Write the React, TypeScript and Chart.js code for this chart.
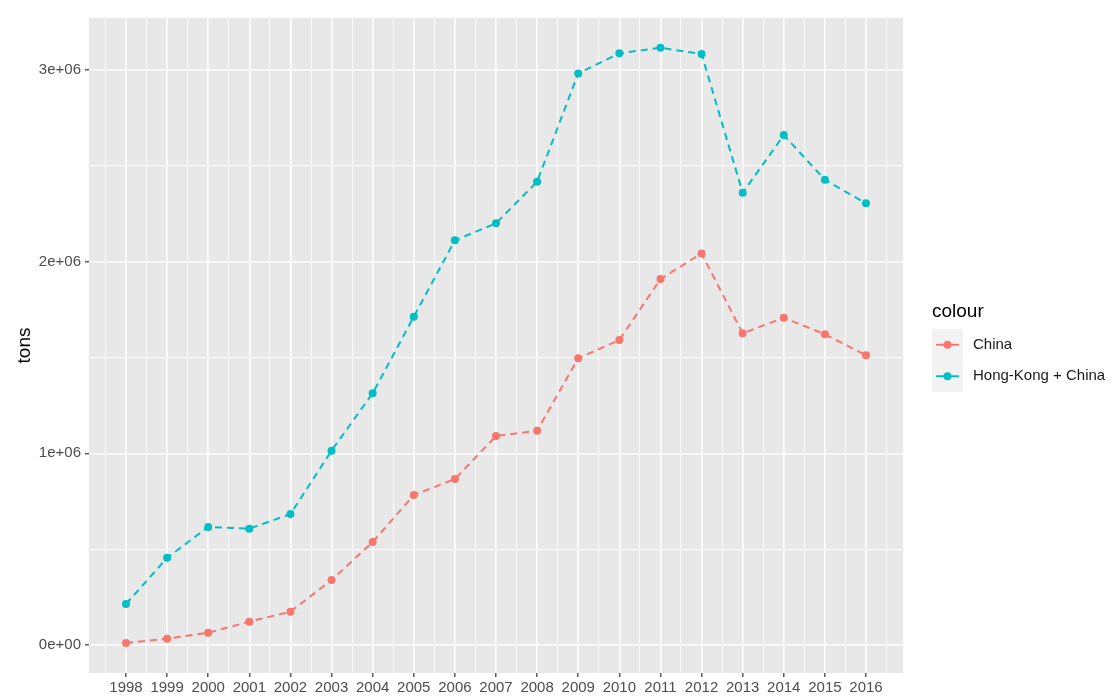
import React, { useEffect, useRef } from "react";
import { Chart, registerables } from "chart.js";

Chart.register(...registerables);

const years = [1998, 1999, 2000, 2001, 2002, 2003, 2004, 2005, 2006, 2007, 2008, 2009, 2010, 2011, 2012, 2013, 2014, 2015, 2016];
const china = [10000, 33000, 64000, 122000, 174000, 339000, 537000, 782000, 866000, 1090000, 1118000, 1496000, 1591000, 1909000, 2043000, 1626000, 1707000, 1621000, 1511000];
const hongKongChina = [214000, 455000, 616000, 607000, 683000, 1014000, 1313000, 1713000, 2111000, 2200000, 2417000, 2982000, 3087000, 3116000, 3083000, 2359000, 2660000, 2427000, 2304000];
const yTickValues = [0, 1000000, 2000000, 3000000];
const yTickLabels = ["0e+00", "1e+06", "2e+06", "3e+06"];
const seriesNames = ["China", "Hong-Kong + China"];
const seriesColors = ["#F8766D", "#00BFC4"];
const legendTitle = "colour";
const yTitle = "tons";

const FONT = "'Liberation Sans', Arial, Helvetica, sans-serif";

export default function App() {
  const ref = useRef<HTMLCanvasElement | null>(null);

  useEffect(() => {
    const canvas = ref.current;
    if (!canvas) return;

    const panelBg = {
      id: "panelBg",
      beforeDraw(chart: any) {
        const { ctx, chartArea } = chart;
        ctx.save();
        ctx.fillStyle = "#E8E8E8";
        ctx.fillRect(chartArea.left, chartArea.top, chartArea.right - chartArea.left, chartArea.bottom - chartArea.top);
        ctx.restore();
      },
    };

    const legendPlugin = {
      id: "ggLegend",
      afterDraw(chart: any) {
        const ctx = chart.ctx;
        ctx.save();
        ctx.fillStyle = "#000000";
        ctx.font = `19px ${FONT}`;
        ctx.textBaseline = "middle";
        ctx.textAlign = "left";
        ctx.fillText(legendTitle, 932, 312);
        const keyX = 932;
        const keyW = 31;
        const keyH = 31.5;
        const keyTop = 329;
        seriesNames.forEach((name, i) => {
          const y0 = keyTop + i * keyH;
          ctx.fillStyle = "#F2F2F2";
          ctx.fillRect(keyX, y0, keyW, keyH);
          const cy = y0 + keyH / 2;
          ctx.strokeStyle = seriesColors[i];
          ctx.lineWidth = 2;
          ctx.beginPath();
          ctx.moveTo(keyX + 4, cy);
          ctx.lineTo(keyX + keyW - 4, cy);
          ctx.stroke();
          ctx.fillStyle = seriesColors[i];
          ctx.beginPath();
          ctx.arc(keyX + keyW / 2, cy, 4, 0, Math.PI * 2);
          ctx.fill();
          ctx.fillStyle = "#1A1A1A";
          ctx.font = `15px ${FONT}`;
          ctx.fillText(name, 973, cy);
        });
        ctx.restore();
      },
    };

    const isMajorY = (v: number) => yTickValues.includes(v);
    const isMajorX = (v: number) => years.includes(v);

    const chart = new Chart(canvas, {
      type: "line",
      data: {
        datasets: [china, hongKongChina].map((vals, i) => ({
          label: seriesNames[i],
          data: years.map((yr, j) => ({ x: yr, y: vals[j] })),
          borderColor: seriesColors[i],
          backgroundColor: seriesColors[i],
          borderWidth: 2,
          borderDash: [7, 5],
          pointRadius: 4,
          pointBorderWidth: 0,
          pointBackgroundColor: seriesColors[i],
          fill: false,
          tension: 0,
        })),
      },
      options: {
        animation: false,
        responsive: false,
        maintainAspectRatio: false,
        layout: { padding: { left: 0, top: 18, right: 211, bottom: 0 } },
        plugins: {
          legend: { display: false },
          tooltip: { enabled: false },
        },
        scales: {
          x: {
            type: "linear",
            min: 1997.1,
            max: 2016.9,
            afterBuildTicks: (scale: any) => {
              const t: any[] = [];
              t.push({ value: years[0] - 0.5 });
              years.forEach((y) => {
                t.push({ value: y });
                t.push({ value: y + 0.5 });
              });
              scale.ticks = t;
            },
            afterFit: (scale: any) => {
              scale.height = 24;
            },
            border: { display: false },
            grid: {
              color: "#FFFFFF",
              lineWidth: (ctx: any) => (ctx.tick && isMajorX(ctx.tick.value) ? 1.6 : 0.8),
              tickLength: 4,
              tickColor: (ctx: any) => (ctx.tick && isMajorX(ctx.tick.value) ? "#333333" : "rgba(0,0,0,0)"),
              tickWidth: 1.2,
            },
            ticks: {
              autoSkip: false,
              maxRotation: 0,
              padding: 2,
              color: "#4D4D4D",
              font: { family: FONT, size: 15 },
              callback: (v: any) => (isMajorX(Number(v)) ? String(v) : ""),
            },
          },
          y: {
            type: "linear",
            min: -146000,
            max: 3271000,
            afterBuildTicks: (scale: any) => {
              const t: any[] = [];
              yTickValues.forEach((v, i) => {
                t.push({ value: v });
                if (i < yTickValues.length - 1) t.push({ value: (v + yTickValues[i + 1]) / 2 });
              });
              scale.ticks = t;
            },
            afterFit: (scale: any) => {
              scale.width = 89;
            },
            border: { display: false },
            grid: {
              color: "#FFFFFF",
              lineWidth: (ctx: any) => (ctx.tick && isMajorY(ctx.tick.value) ? 1.6 : 0.8),
              tickLength: 4,
              tickColor: (ctx: any) => (ctx.tick && isMajorY(ctx.tick.value) ? "#333333" : "rgba(0,0,0,0)"),
              tickWidth: 1.2,
            },
            ticks: {
              autoSkip: false,
              padding: 4,
              color: "#4D4D4D",
              font: { family: FONT, size: 15 },
              callback: (v: any) => {
                const idx = yTickValues.indexOf(Number(v));
                return idx >= 0 ? yTickLabels[idx] : "";
              },
            },
            title: {
              display: true,
              text: yTitle,
              color: "#000000",
              font: { family: FONT, size: 19 },
              padding: { top: 13, bottom: 0 },
            },
          },
        },
      },
      plugins: [panelBg, legendPlugin],
    } as any);

    return () => chart.destroy();
  }, []);

  return (
    <div style={{ position: "fixed", left: 0, top: 0, width: 1114, height: 697, background: "#FFFFFF" }}>
      <canvas ref={ref} width={1114} height={697} style={{ width: 1114, height: 697, display: "block" }} />
    </div>
  );
}
